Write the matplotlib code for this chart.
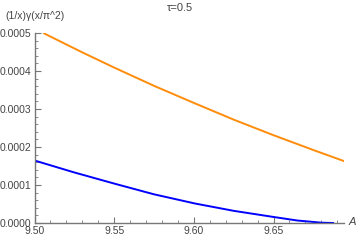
import matplotlib
matplotlib.use("Agg")
import matplotlib.pyplot as plt
from matplotlib.ticker import MultipleLocator, FormatStrFormatter

plt.rcParams['font.family'] = ['Liberation Sans', 'DejaVu Sans']
plt.rcParams['mathtext.fontset'] = 'custom'
plt.rcParams['mathtext.it'] = 'Liberation Sans:italic'

orange_x = [9.5055, 9.530, 9.550, 9.575, 9.600, 9.625, 9.650, 9.675, 9.6948]
orange_y = [0.000500, 0.000449, 0.000409, 0.000361, 0.000316, 0.000272, 0.000231, 0.000192, 0.000162]
blue_x = [9.500, 9.525, 9.5505, 9.575, 9.6007, 9.625, 9.6509, 9.665, 9.6802, 9.688]
blue_y = [0.0001645, 0.000133, 0.0001032, 0.0000755, 0.0000513, 0.0000320, 0.0000153, 0.0000065, 0.0000008, 0.0]

title = "τ=0.5"
ylabel = "(1/x)γ(x/π^2)"
xlabel = "A"

fig = plt.figure(figsize=(3.6, 2.42), dpi=100)
ax = fig.add_axes([34.5/360, 1-223/242, (344-34.5)/360, (223-33)/242])
ax.plot(orange_x, orange_y, color="#FF8C0A", lw=1.4, solid_capstyle="butt")
ax.plot(blue_x, blue_y, color="#0000FF", lw=1.4, solid_capstyle="butt")
ax.set_xlim(9.5, 9.6942)
ax.set_ylim(0, 0.0005)
for s in ["top", "right"]:
    ax.spines[s].set_visible(False)
for s in ["left", "bottom"]:
    ax.spines[s].set_color("#777777")
    ax.spines[s].set_linewidth(1.0)
ax.xaxis.set_major_locator(MultipleLocator(0.05))
ax.xaxis.set_minor_locator(MultipleLocator(0.01))
ax.yaxis.set_major_locator(MultipleLocator(0.0001))
ax.yaxis.set_minor_locator(MultipleLocator(0.00002))
ax.xaxis.set_major_formatter(FormatStrFormatter("%.2f"))
ax.yaxis.set_major_formatter(FormatStrFormatter("%.4f"))
ax.tick_params(which="major", direction="in", length=4, width=0.8, color="#777777",
               labelsize=7.5, labelcolor="#444444", pad=2)
ax.tick_params(which="minor", direction="in", length=2, width=0.6, color="#777777")
ax.text(0.5, 1-8/242, title, transform=fig.transFigure, ha="center", va="center",
        fontsize=8, color="#444444")
ax.text(5/360, 1-16/242, ylabel, transform=fig.transFigure, ha="left", va="center",
        fontsize=7.5, color="#444444")
ax.text(352/360, 1-222/242, xlabel, transform=fig.transFigure, ha="center", va="center",
        fontsize=8, color="#444444", style="italic")
fig.savefig("out.png", dpi=100)
